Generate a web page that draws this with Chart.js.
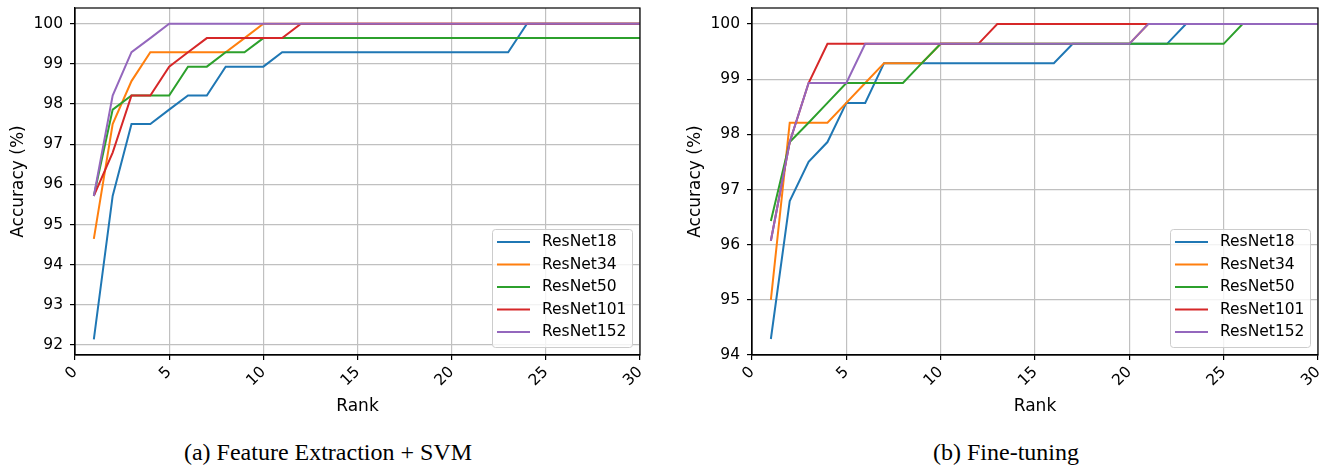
<!DOCTYPE html>
<html>
<head>
<meta charset="utf-8">
<script src="https://cdn.jsdelivr.net/npm/chart.js@4.4.1/dist/chart.umd.min.js"></script>
<style>
  body { margin: 0; background: #fff; width: 1330px; height: 470px; position: relative; overflow: hidden; }
  canvas { position: absolute; top: 0; }
  #chartA { left: 0; }
  #chartB { left: 677px; }
  .caption { position: absolute; top: 437px; font-family: "Liberation Serif", serif; font-size: 24px; line-height: 30px; color: #000; text-align: center; white-space: nowrap; }
</style>
</head>
<body>
<canvas id="chartA" width="665" height="430"></canvas>
<canvas id="chartB" width="653" height="430"></canvas>
<div class="caption" style="left:128px; width:400px;">(a) Feature Extraction + SVM</div>
<div class="caption" style="left:806px; width:400px;">(b) Fine-tuning</div>
<script>
const ranks = [1, 2, 3, 4, 5, 6, 7, 8, 9, 10, 11, 12, 13, 14, 15, 16, 17, 18, 19, 20, 21, 22, 23, 24, 25, 26, 27, 28, 29, 30];
const modelNames = ['ResNet18', 'ResNet34', 'ResNet50', 'ResNet101', 'ResNet152'];
const modelColors = ['#1f77b4', '#ff7f0e', '#2ca02c', '#d62728', '#9467bd'];

// (a) Feature Extraction + SVM
const svmResNet18 = [92.14, 95.71, 97.50, 97.50, 97.86, 98.21, 98.21, 98.93, 98.93, 98.93, 99.29, 99.29, 99.29, 99.29, 99.29, 99.29, 99.29, 99.29, 99.29, 99.29, 99.29, 99.29, 99.29, 100, 100, 100, 100, 100, 100, 100];
const svmResNet34 = [94.64, 97.50, 98.57, 99.29, 99.29, 99.29, 99.29, 99.29, 99.64, 100, 100, 100, 100, 100, 100, 100, 100, 100, 100, 100, 100, 100, 100, 100, 100, 100, 100, 100, 100, 100];
const svmResNet50 = [95.71, 97.86, 98.21, 98.21, 98.21, 98.93, 98.93, 99.29, 99.29, 99.64, 99.64, 99.64, 99.64, 99.64, 99.64, 99.64, 99.64, 99.64, 99.64, 99.64, 99.64, 99.64, 99.64, 99.64, 99.64, 99.64, 99.64, 99.64, 99.64, 99.64];
const svmResNet101 = [95.71, 96.79, 98.21, 98.21, 98.93, 99.29, 99.64, 99.64, 99.64, 99.64, 99.64, 100, 100, 100, 100, 100, 100, 100, 100, 100, 100, 100, 100, 100, 100, 100, 100, 100, 100, 100];
const svmResNet152 = [95.71, 98.21, 99.29, 99.64, 100, 100, 100, 100, 100, 100, 100, 100, 100, 100, 100, 100, 100, 100, 100, 100, 100, 100, 100, 100, 100, 100, 100, 100, 100, 100];

// (b) Fine-tuning
const ftResNet18 = [94.29, 96.79, 97.50, 97.86, 98.57, 98.57, 99.29, 99.29, 99.29, 99.29, 99.29, 99.29, 99.29, 99.29, 99.29, 99.29, 99.64, 99.64, 99.64, 99.64, 99.64, 99.64, 100, 100, 100, 100, 100, 100, 100, 100];
const ftResNet34 = [95.00, 98.21, 98.21, 98.21, 98.57, 98.93, 99.29, 99.29, 99.29, 99.64, 99.64, 99.64, 99.64, 99.64, 99.64, 99.64, 99.64, 99.64, 99.64, 99.64, 100, 100, 100, 100, 100, 100, 100, 100, 100, 100];
const ftResNet50 = [96.43, 97.86, 98.21, 98.57, 98.93, 98.93, 98.93, 98.93, 99.29, 99.64, 99.64, 99.64, 99.64, 99.64, 99.64, 99.64, 99.64, 99.64, 99.64, 99.64, 99.64, 99.64, 99.64, 99.64, 99.64, 100, 100, 100, 100, 100];
const ftResNet101 = [96.07, 97.86, 98.93, 99.64, 99.64, 99.64, 99.64, 99.64, 99.64, 99.64, 99.64, 99.64, 100, 100, 100, 100, 100, 100, 100, 100, 100, 100, 100, 100, 100, 100, 100, 100, 100, 100];
const ftResNet152 = [96.07, 97.86, 98.93, 98.93, 98.93, 99.64, 99.64, 99.64, 99.64, 99.64, 99.64, 99.64, 99.64, 99.64, 99.64, 99.64, 99.64, 99.64, 99.64, 99.64, 100, 100, 100, 100, 100, 100, 100, 100, 100, 100];

const FONT = '"DejaVu Sans", sans-serif';

// matplotlib style legend, lower right inside the axes
const legendBox = {
  id: 'legendBox',
  afterDatasetsDraw(chart) {
    const { ctx, chartArea } = chart;
    const w = 140, h = 118;
    const x0 = chartArea.right - 8 - w;
    const y0 = chartArea.bottom - 8 - h;
    ctx.save();
    ctx.fillStyle = 'rgba(255,255,255,0.8)';
    ctx.strokeStyle = '#cccccc';
    ctx.lineWidth = 1;
    ctx.beginPath();
    ctx.roundRect(x0 + 0.5, y0 + 0.5, w, h, 3);
    ctx.fill();
    ctx.stroke();
    ctx.font = '15.5px ' + FONT;
    ctx.textBaseline = 'middle';
    ctx.textAlign = 'left';
    chart.data.datasets.forEach((ds, i) => {
      const y = y0 + 13 + i * 22.5;
      ctx.strokeStyle = ds.borderColor;
      ctx.lineWidth = 2;
      ctx.beginPath();
      ctx.moveTo(x0 + 5, y);
      ctx.lineTo(x0 + 38, y);
      ctx.stroke();
      ctx.fillStyle = '#000';
      ctx.fillText(ds.label, x0 + 50, y);
    });
    ctx.restore();
  }
};

// box around the plot area
const frame = {
  id: 'frame',
  afterDraw(chart) {
    const { ctx, chartArea } = chart;
    ctx.save();
    ctx.strokeStyle = '#000';
    ctx.lineWidth = 1.2;
    ctx.strokeRect(chartArea.left, chartArea.top, chartArea.right - chartArea.left, chartArea.bottom - chartArea.top);
    ctx.restore();
  }
};

function makeDatasets(series) {
  return series.map((vals, i) => ({
    label: modelNames[i],
    data: ranks.map((r, j) => ({ x: r, y: vals[j] })),
    borderColor: modelColors[i],
    backgroundColor: modelColors[i],
    borderWidth: 2,
    pointRadius: 0,
    tension: 0,
    fill: false,
    order: series.length - i
  }));
}

function drawChart(id, series, yMin, yMax, padRight) {
  return new Chart(document.getElementById(id), {
    type: 'line',
    data: { datasets: makeDatasets(series) },
    options: {
      responsive: false,
      animation: false,
      layout: { padding: { top: 8, right: padRight, left: 0, bottom: 0 } },
      plugins: { legend: { display: false }, tooltip: { enabled: false } },
      scales: {
        x: {
          type: 'linear',
          min: 0,
          max: 30,
          ticks: { stepSize: 5, minRotation: 45, maxRotation: 45, color: '#000', padding: 3, font: { family: FONT, size: 15.5 } },
          grid: { color: '#c0c0c0', lineWidth: 1.2, tickColor: '#000', tickLength: 5 },
          border: { color: '#000', width: 1.2 },
          title: { display: true, text: 'Rank', color: '#000', font: { family: FONT, size: 17 }, padding: { top: 4, bottom: 13 } },
          afterFit: (s) => { s.height = 75; s.paddingLeft = 0; s.paddingRight = 0; }
        },
        y: {
          type: 'linear',
          min: yMin,
          max: yMax,
          ticks: { stepSize: 1, includeBounds: false, color: '#000', padding: 7, font: { family: FONT, size: 15.5 } },
          grid: { color: '#c0c0c0', lineWidth: 1.2, tickColor: '#000', tickLength: 5 },
          border: { color: '#000', width: 1.2 },
          title: { display: true, text: 'Accuracy (%)', color: '#000', font: { family: FONT, size: 17 }, padding: { top: 8, bottom: 4 } },
          afterFit: (s) => { s.width = 75; s.paddingTop = 0; s.paddingBottom = 0; }
        }
      }
    },
    plugins: [legendBox, frame]
  });
}

drawChart('chartA', [svmResNet18, svmResNet34, svmResNet50, svmResNet101, svmResNet152], 91.75, 100.39, 25);
drawChart('chartB', [ftResNet18, ftResNet34, ftResNet50, ftResNet101, ftResNet152], 94, 100.29, 12);
</script>
</body>
</html>
